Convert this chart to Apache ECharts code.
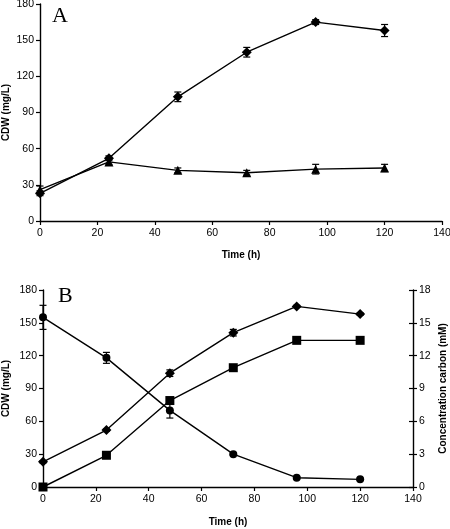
<!DOCTYPE html>
<html>
<head>
<meta charset="utf-8">
<script src="https://cdn.jsdelivr.net/npm/echarts@6/dist/echarts.min.js"></script>
<style>html,body{margin:0;padding:0;background:#fff}#c{width:450px;height:529px}</style>
</head>
<body>
<div id="c"></div>
<script>
// ---- data ----
const time = [0, 24, 48, 72, 96, 120];
// Panel A
const cdwDiamondA = [23, 52, 103, 140, 165, 158];
const cdwDiamondAErr = [2, 2, 4, 4, 2, 5];
const cdwTriangleA = [26, 49, 42, 40, 43, 44];
const cdwTriangleAErr = [3, 2, 2, 2, 4, 3];
// Panel B
const cdwDiamondB = [23, 52, 104, 141, 165, 158];
const cdwDiamondBErr = [1, 1, 3, 3, 1, 1];
const carbonSquareB = [0, 2.9, 7.9, 10.9, 13.4, 13.4];      // mM
const carbonCircleB = [15.5, 11.8, 7.0, 3.0, 0.85, 0.7];    // mM
const carbonCircleBErr = [1.1, 0.5, 0.7, 0.1, 0.1, 0.1];

const FONT = "'Liberation Sans Narrow', 'Liberation Sans', Arial, sans-serif";
const pairs = (xs, ys) => xs.map((x, i) => [x, ys[i]]);
const errData = (xs, ys, es) => xs.map((x, i) => [x, ys[i] - es[i], ys[i] + es[i]]);

function errSeries(xi, yi, data) {
  return {
    type: 'custom', xAxisIndex: xi, yAxisIndex: yi, data: data, z: 3,
    renderItem: function (params, api) {
      const x = api.value(0);
      const lo = api.coord([x, api.value(1)]);
      const hi = api.coord([x, api.value(2)]);
      const w = 3.5;
      const st = { stroke: '#000', lineWidth: 1.2 };
      return { type: 'group', children: [
        { type: 'line', shape: { x1: lo[0], y1: lo[1], x2: hi[0], y2: hi[1] }, style: st },
        { type: 'line', shape: { x1: lo[0] - w, y1: lo[1], x2: lo[0] + w, y2: lo[1] }, style: st },
        { type: 'line', shape: { x1: hi[0] - w, y1: hi[1], x2: hi[0] + w, y2: hi[1] }, style: st }
      ]};
    }
  };
}
function lineSeries(xi, yi, data, symbol, size) {
  return {
    type: 'line', xAxisIndex: xi, yAxisIndex: yi, data: data,
    symbol: symbol, symbolSize: size, showSymbol: true, animation: false, z: 4,
    lineStyle: { color: '#000', width: 1.4 },
    itemStyle: { color: '#000', borderColor: '#000', borderWidth: 0 }
  };
}

const axisLine = { show: true, lineStyle: { color: '#000', width: 1.4 } };
const labelStyle = { color: '#000', fontSize: 10.5, fontFamily: FONT };
const nameStyle = { color: '#000', fontSize: 10, fontWeight: 'bold', fontFamily: FONT };

function xAxis(gi, gap) {
  return {
    type: 'value', gridIndex: gi, min: 0, max: 140, interval: 20,
    name: 'Time (h)', nameLocation: 'middle', nameGap: gap, nameTextStyle: nameStyle,
    nameMoveOverlap: false,
    axisLine: axisLine, axisTick: { show: true, length: 4, lineStyle: { color: '#000', width: 1.2 } },
    axisLabel: Object.assign({ margin: 7 }, labelStyle), splitLine: { show: false }
  };
}
function yAxis(gi, name, max, interval, pos, gap) {
  return {
    type: 'value', gridIndex: gi, min: 0, max: max, interval: interval, position: pos,
    name: name, nameLocation: 'middle', nameGap: gap, nameTextStyle: nameStyle,
    nameMoveOverlap: false,
    axisLine: axisLine,
    axisTick: { show: true, length: 4, lineStyle: { color: '#000', width: 1.2 } },
    axisLabel: Object.assign({ margin: 6 }, labelStyle), splitLine: { show: false }
  };
}

const chart = echarts.init(document.getElementById('c'), null, { renderer: 'canvas' });
chart.setOption({
  animation: false,
  backgroundColor: '#fff',
  grid: [
    { left: 40, top: 4, width: 402, height: 217, containLabel: false, outerBoundsMode: 'none' },
    { left: 43, top: 290, width: 370, height: 197, containLabel: false, outerBoundsMode: 'none' }
  ],
  xAxis: [xAxis(0, 29), xAxis(1, 30)],
  yAxis: [
    yAxis(0, 'CDW (mg/L)', 180, 30, 'left', 29),
    yAxis(1, 'CDW (mg/L)', 180, 30, 'left', 32),
    Object.assign(yAxis(1, 'Concentration carbon (mM)', 18, 3, 'right', 25), { nameRotate: 90 }),
    {
      type: 'value', gridIndex: 1, min: 0, max: 18, interval: 3, position: 'right',
      axisLine: { show: false }, axisLabel: { show: false }, splitLine: { show: false },
      axisTick: { show: true, inside: true, length: 4, lineStyle: { color: '#000', width: 1.2 } }
    }
  ],
  graphic: [
    { type: 'text', left: 52, top: 5, style: { text: 'A', font: '22px "Liberation Serif", "Times New Roman", serif', fill: '#000' } },
    { type: 'text', left: 58, top: 285, style: { text: 'B', font: '22px "Liberation Serif", "Times New Roman", serif', fill: '#000' } }
  ],
  series: [
    errSeries(0, 0, errData(time, cdwDiamondA, cdwDiamondAErr)),
    errSeries(0, 0, errData(time, cdwTriangleA, cdwTriangleAErr)),
    lineSeries(0, 0, pairs(time, cdwDiamondA), 'diamond', 10),
    lineSeries(0, 0, pairs(time, cdwTriangleA), 'triangle', 9),
    errSeries(1, 1, errData(time, cdwDiamondB, cdwDiamondBErr)),
    errSeries(1, 2, errData(time, carbonCircleB, carbonCircleBErr)),
    lineSeries(1, 1, pairs(time, cdwDiamondB), 'diamond', 10),
    lineSeries(1, 2, pairs(time, carbonSquareB), 'rect', 9),
    lineSeries(1, 2, pairs(time, carbonCircleB), 'circle', 8)
  ]
});
</script>
</body>
</html>
